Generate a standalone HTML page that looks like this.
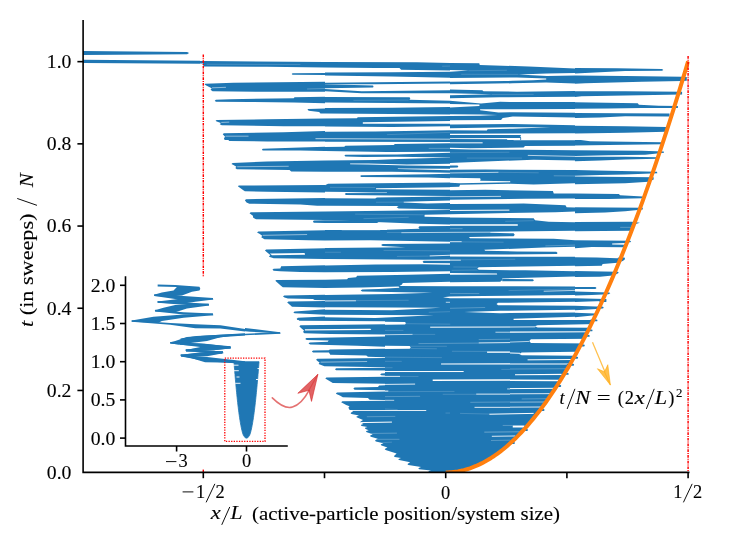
<!DOCTYPE html>
<html><head><meta charset="utf-8"><title>chart</title>
<style>
html,body{margin:0;padding:0;background:#fff;}
body{width:747px;height:538px;overflow:hidden;font-family:"Liberation Serif",serif;}
svg{display:block;will-change:transform;}
</style></head><body>
<svg width="747" height="538" viewBox="0 0 747 538">
<g id="data">
<clipPath id="c1"><rect x="200.0" y="50.0" width="125" height="90"/></clipPath>
<g clip-path="url(#c1)">
<polygon points="199.16,61.04 203.35,61.04 325.00,62.05 325.00,67.57 266.93,66.73 204.02,66.40 203.01,65.06 203.01,63.39 199.16,63.39" fill="#1f77b4"/>
<polyline points="206.69,64.22 300.40,64.56" fill="none" stroke="#8fbbd9" stroke-width="0.33" stroke-linecap="butt" stroke-linejoin="round"/>
<polygon points="291.70,73.93 292.54,73.26 325.00,72.93 325.00,75.10 292.54,74.77" fill="#1f77b4"/>
<polygon points="204.69,84.47 205.02,83.63 233.47,82.80 325.00,81.79 325.00,91.83 266.93,91.83 212.55,91.16 210.54,89.66 211.71,88.15 206.69,85.64" fill="#1f77b4"/>
<polyline points="212.05,87.82 225.94,87.32" fill="none" stroke="#fff" stroke-width="0.50" stroke-linecap="butt" stroke-linejoin="round"/>
<polyline points="307.10,88.99 325.00,88.49" fill="none" stroke="#8fbbd9" stroke-width="0.50" stroke-linecap="butt" stroke-linejoin="round"/>
<polygon points="214.73,100.70 215.90,99.70 230.12,99.20 293.71,98.19 294.54,97.36 325.00,96.69 325.00,103.21 293.71,102.54 250.20,102.04 215.90,101.71" fill="#1f77b4"/>
<polygon points="307.60,109.74 307.93,108.90 325.00,108.57 325.00,113.59 320.48,113.59 319.14,111.91 308.77,110.74" fill="#1f77b4"/>
<polygon points="215.56,120.78 216.73,119.95 266.93,119.28 325.00,118.44 325.00,126.14 283.67,126.14 221.75,125.30 219.75,124.13 220.92,122.96 216.73,121.62" fill="#1f77b4"/>
<polyline points="221.25,122.46 229.28,122.12" fill="none" stroke="#fff" stroke-width="0.50" stroke-linecap="butt" stroke-linejoin="round"/>
<polygon points="222.76,134.17 223.76,133.17 283.67,132.33 325.00,130.99 325.00,141.20 225.10,141.20 223.93,138.19 225.10,136.68 223.43,135.01" fill="#1f77b4"/>
<polyline points="225.44,136.18 248.53,136.18" fill="none" stroke="#fff" stroke-width="0.50" stroke-linecap="butt" stroke-linejoin="round"/>
<polyline points="315.46,138.69 325.00,138.69" fill="none" stroke="#fff" stroke-width="0.67" stroke-linecap="butt" stroke-linejoin="round"/>
</g>
<clipPath id="c2"><rect x="325.0" y="50.0" width="125" height="90"/></clipPath>
<g clip-path="url(#c2)">
<polygon points="325.00,62.05 417.03,62.22 450.00,63.05 450.00,70.41 401.14,69.75 399.46,68.07 375.20,67.90 325.00,67.57" fill="#1f77b4"/>
<polyline points="442.14,66.23 450.00,66.06" fill="none" stroke="#8fbbd9" stroke-width="0.33" stroke-linecap="butt" stroke-linejoin="round"/>
<polygon points="325.00,72.59 391.93,72.26 450.00,71.75 450.00,77.78 391.93,76.44 325.00,75.44" fill="#1f77b4"/>
<polygon points="325.00,82.63 375.20,82.30 450.00,81.46 450.00,83.47 375.20,84.14 325.00,84.30" fill="#1f77b4"/>
<polygon points="325.00,84.30 373.03,85.48 373.53,86.65 373.03,87.48 325.00,88.15" fill="#1f77b4"/>
<polygon points="325.00,88.99 361.81,91.16 450.00,90.16 450.00,93.17 361.81,93.17 325.00,91.16" fill="#1f77b4"/>
<polygon points="325.00,97.02 409.50,97.36 410.34,98.36 409.50,99.70 450.00,100.70 450.00,103.55 391.93,102.88 325.00,102.54" fill="#1f77b4"/>
<polyline points="353.45,100.37 408.67,100.03" fill="none" stroke="#8fbbd9" stroke-width="0.33" stroke-linecap="butt" stroke-linejoin="round"/>
<polygon points="325.00,108.07 391.93,107.73 450.00,106.89 450.00,114.42 391.93,114.09 325.00,113.59" fill="#1f77b4"/>
<polygon points="325.00,118.44 356.79,118.27 357.80,117.27 450.00,116.10 450.00,126.31 391.93,126.97 325.00,126.47" fill="#1f77b4"/>
<polygon points="362.82,122.29 450.00,121.12 450.00,123.63 362.82,123.63" fill="#fff"/>
<polygon points="325.00,131.83 375.20,131.49 450.00,130.32 450.00,141.20 325.00,141.20" fill="#1f77b4"/>
<polyline points="386.91,134.67 450.00,132.33" fill="none" stroke="#8fbbd9" stroke-width="0.33" stroke-linecap="butt" stroke-linejoin="round"/>
<polyline points="325.00,138.69 450.00,139.19" fill="none" stroke="#fff" stroke-width="0.67" stroke-linecap="butt" stroke-linejoin="round"/>
</g>
<clipPath id="c3"><rect x="450.0" y="50.0" width="125" height="90"/></clipPath>
<g clip-path="url(#c3)">
<polygon points="450.00,63.05 479.28,63.22 479.79,65.06 528.65,66.40 575.00,68.41 575.00,141.20 450.00,141.20" fill="#1f77b4"/>
<polygon points="450.00,70.08 468.74,70.58 450.00,71.75" fill="#fff"/>
<polyline points="468.41,70.75 506.89,70.25" fill="none" stroke="#8fbbd9" stroke-width="0.33" stroke-linecap="butt" stroke-linejoin="round"/>
<polyline points="461.21,74.26 518.44,74.43" fill="none" stroke="#8fbbd9" stroke-width="0.33" stroke-linecap="butt" stroke-linejoin="round"/>
<polygon points="518.44,74.43 547.05,73.43 575.00,73.09 575.00,75.44 547.05,76.10" fill="#fff"/>
<polygon points="450.00,77.95 516.93,77.44 546.22,78.61 546.22,79.62 533.00,80.29 512.75,80.79 505.22,81.12 450.00,81.79" fill="#fff"/>
<polygon points="450.00,84.30 512.75,83.30 546.22,82.46 575.00,83.47 575.00,91.00 516.93,91.67 483.47,91.33 482.30,90.16 450.00,89.49" fill="#fff"/>
<polygon points="450.00,93.34 492.67,94.34 450.00,95.18" fill="#fff"/>
<polyline points="491.83,94.51 533.67,94.34" fill="none" stroke="#8fbbd9" stroke-width="0.33" stroke-linecap="butt" stroke-linejoin="round"/>
<polygon points="450.00,98.19 500.20,97.36 575.00,96.85 575.00,102.04 500.20,101.87 480.96,103.55 450.00,100.70" fill="#fff"/>
<polygon points="450.00,104.05 479.45,104.55 479.45,105.89 450.00,107.40" fill="#fff"/>
<polygon points="480.12,109.24 512.75,109.24 575.00,108.90 575.00,112.75 512.75,112.25 498.53,112.58 480.12,110.24" fill="#fff"/>
<polygon points="450.00,114.26 480.12,114.42 497.52,115.09 480.12,115.76 450.00,116.10" fill="#fff"/>
<polygon points="450.00,120.28 501.04,120.11 502.71,118.11 512.75,116.43 575.00,117.44 575.00,125.30 512.75,123.96 450.00,124.46" fill="#fff"/>
<polygon points="450.00,128.15 512.75,127.14 550.40,127.31 512.75,128.65 487.65,129.32 486.81,130.49 450.00,130.32" fill="#fff"/>
<polygon points="450.00,133.67 575.00,133.33 575.00,141.20 521.12,141.20 521.12,137.68 520.28,136.35 521.12,135.01 450.00,135.01" fill="#fff"/>
<polygon points="450.00,138.19 520.28,138.02 520.28,141.20 508.57,141.20 506.89,139.36 450.00,139.02" fill="#fff"/>
</g>
<clipPath id="c4"><rect x="575.0" y="50.0" width="125" height="90"/></clipPath>
<g clip-path="url(#c4)">
<polygon points="575.00,68.07 616.83,68.24 662.01,68.91 663.35,69.91 662.01,70.75 625.20,71.08 600.10,72.26 575.00,73.59" fill="#1f77b4"/>
<polygon points="575.00,75.44 625.20,76.10 682.10,76.77 686.78,77.11 686.78,80.79 682.10,81.12 641.93,81.79 585.04,83.13 575.00,83.63" fill="#1f77b4"/>
<polygon points="575.00,91.16 625.20,91.33 682.10,91.83 682.10,94.51 625.20,95.52 581.69,96.35 575.00,97.02" fill="#1f77b4"/>
<polygon points="575.00,102.21 637.75,103.21 638.92,104.72 658.67,105.72 677.91,106.06 677.91,107.90 641.93,108.07 608.47,108.40 575.00,108.73" fill="#1f77b4"/>
<polygon points="575.00,112.92 669.54,113.59 669.54,116.43 625.20,116.27 600.10,117.44 575.00,118.11" fill="#1f77b4"/>
<polygon points="575.00,125.64 625.20,126.14 666.20,126.97 666.20,131.83 625.20,132.66 575.00,133.50" fill="#1f77b4"/>
</g>
<clipPath id="c5"><rect x="200.0" y="140.0" width="125" height="90"/></clipPath>
<g clip-path="url(#c5)">
<polygon points="227.61,139.16 229.28,141.00 266.93,141.51 325.00,141.51 325.00,139.16" fill="#1f77b4"/>
<polygon points="261.91,149.71 262.75,148.87 300.40,147.53 325.00,146.69 325.00,151.04 300.40,150.54 262.75,150.54" fill="#1f77b4"/>
<polygon points="231.46,163.93 232.63,162.93 266.93,161.42 325.00,160.41 325.00,171.79 291.20,171.46 289.52,170.12 236.81,169.28 235.31,168.11 236.48,166.77 233.47,165.10" fill="#1f77b4"/>
<polyline points="237.15,166.77 288.69,166.27" fill="none" stroke="#fff" stroke-width="0.50" stroke-linecap="butt" stroke-linejoin="round"/>
<polygon points="237.82,186.35 238.82,185.52 325.00,185.01 325.00,192.38 266.93,191.87 244.85,191.37 242.67,189.87" fill="#1f77b4"/>
<polygon points="244.85,200.24 246.02,199.24 325.00,198.07 325.00,205.76 317.14,205.76 300.40,204.59 249.36,203.76 246.52,202.58" fill="#1f77b4"/>
<polygon points="249.53,213.13 250.70,212.29 325.00,211.45 325.00,219.99 256.06,219.32 253.21,217.81 252.88,215.64" fill="#1f77b4"/>
<polygon points="312.95,221.49 313.79,220.49 325.00,220.15 325.00,223.00 313.79,222.66" fill="#1f77b4"/>
</g>
<clipPath id="c6"><rect x="325.0" y="140.0" width="125" height="90"/></clipPath>
<g clip-path="url(#c6)">
<polygon points="325.00,139.16 450.00,139.16 450.00,142.01 325.00,141.67" fill="#1f77b4"/>
<polygon points="325.00,147.03 344.24,146.69 345.41,145.86 393.61,145.02 394.95,144.02 450.00,143.35 450.00,151.71 386.91,152.05 325.00,151.04" fill="#1f77b4"/>
<polyline points="428.75,148.37 450.00,148.37" fill="none" stroke="#8fbbd9" stroke-width="0.50" stroke-linecap="butt" stroke-linejoin="round"/>
<polygon points="344.41,155.56 345.41,154.73 396.95,154.39 450.00,152.72 450.00,157.57 396.95,156.73 363.49,157.07 345.41,156.40" fill="#1f77b4"/>
<polygon points="325.00,160.58 375.20,160.08 398.63,159.08 450.00,157.40 450.00,172.80 391.93,171.79 325.00,171.79" fill="#1f77b4"/>
<polygon points="350.10,163.59 368.51,163.43 406.99,164.43 450.00,163.76 450.00,166.10 406.99,165.44 368.51,164.43 350.10,164.26" fill="#fff"/>
<polygon points="397.79,168.45 450.00,168.78 450.00,170.29 397.79,169.12" fill="#fff"/>
<polygon points="360.14,175.98 361.14,175.14 428.75,174.30 450.00,173.80 450.00,178.15 428.75,177.48 361.14,176.98" fill="#1f77b4"/>
<polygon points="325.00,185.18 328.01,183.84 450.00,182.50 450.00,196.06 391.93,195.56 345.92,194.89 344.75,193.88 345.92,193.05 375.20,192.21 325.00,191.87" fill="#1f77b4"/>
<polygon points="376.04,188.19 450.00,187.36 450.00,189.87 376.04,189.36" fill="#fff"/>
<polyline points="330.02,187.36 375.20,187.52" fill="none" stroke="#8fbbd9" stroke-width="0.33" stroke-linecap="butt" stroke-linejoin="round"/>
<polyline points="346.75,192.71 386.91,192.54" fill="none" stroke="#fff" stroke-width="0.50" stroke-linecap="butt" stroke-linejoin="round"/>
<polygon points="325.00,198.23 375.20,198.57 376.87,197.56 450.00,196.56 450.00,209.61 398.63,208.61 396.62,207.27 398.63,205.93 325.00,205.76" fill="#1f77b4"/>
<polygon points="403.65,201.75 450.00,200.41 450.00,202.92 427.07,203.42 403.65,202.58" fill="#fff"/>
<polyline points="376.04,202.25 403.65,202.08" fill="none" stroke="#8fbbd9" stroke-width="0.33" stroke-linecap="butt" stroke-linejoin="round"/>
<polygon points="325.00,211.62 450.00,209.95 450.00,224.50 418.71,223.67 375.20,221.99 325.00,219.99" fill="#1f77b4"/>
<polygon points="325.00,220.15 375.20,220.66 378.55,223.00 325.00,223.00" fill="#1f77b4"/>
<polygon points="424.56,214.80 450.00,214.30 450.00,217.31 424.56,216.64" fill="#fff"/>
<polyline points="355.12,214.13 423.73,214.80" fill="none" stroke="#8fbbd9" stroke-width="0.33" stroke-linecap="butt" stroke-linejoin="round"/>
<polyline points="363.49,218.65 408.67,217.31" fill="none" stroke="#8fbbd9" stroke-width="0.33" stroke-linecap="butt" stroke-linejoin="round"/>
<polygon points="418.37,227.35 419.54,226.35 450.00,226.01 450.00,231.20 386.91,231.20 386.91,229.69 419.54,228.69" fill="#1f77b4"/>
</g>
<clipPath id="c7"><rect x="450.0" y="140.0" width="125" height="90"/></clipPath>
<g clip-path="url(#c7)">
<polygon points="449.16,139.16 575.84,139.16 575.84,231.20 449.16,231.20" fill="#1f77b4"/>
<polyline points="450.00,142.84 482.63,142.84" fill="none" stroke="#fff" stroke-width="1.00" stroke-linecap="butt" stroke-linejoin="round"/>
<polyline points="513.59,140.50 575.00,140.50" fill="none" stroke="#8fbbd9" stroke-width="0.50" stroke-linecap="butt" stroke-linejoin="round"/>
<polygon points="450.00,147.86 470.08,148.37 523.63,147.53 524.97,146.02 575.00,145.69 575.00,150.37 523.63,149.71 470.08,149.54 450.00,149.04" fill="#fff"/>
<polyline points="527.81,155.39 575.00,156.40" fill="none" stroke="#fff" stroke-width="0.67" stroke-linecap="butt" stroke-linejoin="round"/>
<polyline points="450.00,152.72 509.40,152.22" fill="none" stroke="#8fbbd9" stroke-width="0.33" stroke-linecap="butt" stroke-linejoin="round"/>
<polyline points="466.73,158.07 521.95,158.07" fill="none" stroke="#8fbbd9" stroke-width="0.33" stroke-linecap="butt" stroke-linejoin="round"/>
<polygon points="450.00,162.93 491.83,161.25 533.67,159.75 575.00,160.41 575.00,170.12 485.14,169.62 450.00,169.79" fill="#fff"/>
<polygon points="450.00,165.44 457.53,165.60 458.37,166.61 457.53,167.61 450.00,167.78" fill="#1f77b4"/>
<polyline points="450.00,172.97 498.53,172.30" fill="none" stroke="#fff" stroke-width="0.67" stroke-linecap="butt" stroke-linejoin="round"/>
<polyline points="498.53,172.30 538.69,172.80" fill="none" stroke="#8fbbd9" stroke-width="0.33" stroke-linecap="butt" stroke-linejoin="round"/>
<polyline points="553.75,175.81 575.00,175.98" fill="none" stroke="#8fbbd9" stroke-width="0.50" stroke-linecap="butt" stroke-linejoin="round"/>
<polygon points="450.00,177.82 480.12,178.15 480.62,179.49 480.12,180.66 510.24,181.16 510.24,182.17 460.04,183.17 450.00,182.84" fill="#fff"/>
<polygon points="450.00,187.02 459.20,186.85 460.04,184.85 510.24,183.84 533.67,184.51 575.00,183.17 575.00,193.55 553.75,193.55 552.91,191.04 485.14,189.87 450.00,190.20" fill="#fff"/>
<polyline points="450.00,196.73 501.04,196.39" fill="none" stroke="#fff" stroke-width="0.67" stroke-linecap="butt" stroke-linejoin="round"/>
<polygon points="450.00,199.74 525.30,198.73 575.00,198.57 575.00,207.44 566.63,207.27 565.46,205.26 523.63,203.59 450.00,203.92" fill="#fff"/>
<polyline points="450.00,210.45 509.40,210.11" fill="none" stroke="#fff" stroke-width="1.00" stroke-linecap="butt" stroke-linejoin="round"/>
<polygon points="450.00,214.13 555.42,212.29 575.00,211.62 575.00,222.16 548.73,221.83 535.01,220.32 533.67,218.31 450.00,217.48" fill="#fff"/>
<polyline points="505.22,221.33 533.67,220.66" fill="none" stroke="#8fbbd9" stroke-width="0.33" stroke-linecap="butt" stroke-linejoin="round"/>
<polyline points="450.00,225.01 517.77,225.01" fill="none" stroke="#fff" stroke-width="1.51" stroke-linecap="butt" stroke-linejoin="round"/>
<polyline points="450.00,228.69 462.55,228.69" fill="none" stroke="#8fbbd9" stroke-width="0.50" stroke-linecap="butt" stroke-linejoin="round"/>
</g>
<clipPath id="c8"><rect x="575.0" y="140.0" width="125" height="90"/></clipPath>
<g clip-path="url(#c8)">
<polygon points="575.00,139.16 590.06,141.34 662.01,142.34 662.85,143.35 662.01,144.35 608.47,145.02 575.00,145.52" fill="#1f77b4"/>
<polygon points="575.00,150.21 641.93,150.71 663.69,151.38 664.02,152.72 645.28,154.73 608.47,155.23 575.00,156.06" fill="#1f77b4"/>
<polygon points="575.00,156.73 625.20,156.73 656.99,157.24 656.99,158.74 625.20,159.58 600.10,160.58 575.00,161.25" fill="#1f77b4"/>
<polygon points="575.00,170.12 596.75,170.62 656.99,171.79 657.33,173.13 625.20,174.47 600.10,174.97 575.00,175.64" fill="#1f77b4"/>
<polygon points="575.00,176.48 653.65,177.15 653.65,179.49 648.63,181.83 625.20,183.34 575.00,184.18" fill="#1f77b4"/>
<polygon points="575.00,193.55 618.84,193.88 620.18,195.22 642.77,196.39 642.77,198.23 608.47,198.90 575.00,199.07" fill="#1f77b4"/>
<polygon points="575.00,207.27 642.77,207.77 642.77,209.44 625.20,211.29 605.12,212.46 575.00,213.13" fill="#1f77b4"/>
<polygon points="575.00,221.99 631.89,221.83 639.93,222.83 631.89,225.34 630.22,231.20 575.00,231.20" fill="#1f77b4"/>
<polyline points="620.18,227.35 631.89,227.35" fill="none" stroke="#8fbbd9" stroke-width="0.50" stroke-linecap="butt" stroke-linejoin="round"/>
</g>
<clipPath id="c9"><rect x="83.1" y="40.0" width="116.9" height="90.0"/></clipPath>
<g clip-path="url(#c9)">
<polygon points="83.03,50.88 187.12,52.05 189.12,53.05 187.12,54.22 83.03,55.06" fill="#1f77b4"/>
<polygon points="83.03,59.75 200.00,60.75 200.00,63.76 83.03,62.93" fill="#1f77b4"/>
</g>
<clipPath id="c10"><rect x="200.0" y="230.0" width="125" height="90"/></clipPath>
<g clip-path="url(#c10)">
<polygon points="257.06,232.51 258.23,231.51 325.00,230.33 325.00,240.54 308.77,240.21 264.42,239.37 261.24,237.36 262.25,235.86 259.40,233.68" fill="#1f77b4"/>
<polyline points="262.75,235.35 307.10,234.52" fill="none" stroke="#fff" stroke-width="0.50" stroke-linecap="butt" stroke-linejoin="round"/>
<polygon points="264.93,250.58 266.10,249.58 325.00,248.24 325.00,258.95 273.63,258.28 268.94,256.77 270.28,255.10 266.93,252.26" fill="#1f77b4"/>
<polygon points="269.95,253.43 304.59,252.93 305.09,254.77 271.95,255.27" fill="#fff"/>
<polygon points="272.46,269.83 273.63,268.82 280.32,268.49 281.16,266.14 325.00,265.31 325.00,272.34 300.40,272.00 280.32,271.16 273.63,270.83" fill="#1f77b4"/>
<polygon points="275.30,280.87 276.31,280.03 325.00,279.70 325.00,287.90 282.83,287.23 281.16,286.06" fill="#1f77b4"/>
<polygon points="283.00,296.43 284.17,295.43 325.00,294.76 325.00,300.28 314.63,300.11 312.95,298.94 287.85,298.44 284.50,297.60" fill="#1f77b4"/>
<polygon points="287.18,302.46 288.35,301.45 325.00,300.95 325.00,307.48 292.03,306.64 290.36,305.30" fill="#1f77b4"/>
<polygon points="293.37,312.50 294.54,311.49 308.77,310.49 325.00,309.32 325.00,314.67 294.54,313.33" fill="#1f77b4"/>
<polygon points="296.72,318.69 297.89,317.68 325.00,316.51 325.00,321.20 297.89,321.20" fill="#1f77b4"/>
</g>
<clipPath id="c11"><rect x="325.0" y="230.0" width="125" height="90"/></clipPath>
<g clip-path="url(#c11)">
<polygon points="324.16,229.16 450.84,229.16 450.84,321.20 324.16,321.20" fill="#1f77b4"/>
<polyline points="341.73,230.50 380.22,230.50" fill="none" stroke="#8fbbd9" stroke-width="0.33" stroke-linecap="butt" stroke-linejoin="round"/>
<polyline points="386.91,232.51 401.31,232.51" fill="none" stroke="#8fbbd9" stroke-width="0.33" stroke-linecap="butt" stroke-linejoin="round"/>
<polyline points="401.31,232.68 450.00,232.34" fill="none" stroke="#fff" stroke-width="0.67" stroke-linecap="butt" stroke-linejoin="round"/>
<polygon points="325.00,240.54 370.18,240.37 450.00,241.71 450.00,243.39 415.36,243.72 382.73,244.06 381.06,245.06 382.73,246.06 405.32,247.24 381.89,247.40 325.00,248.07" fill="#fff"/>
<polyline points="325.00,252.26 340.90,252.26" fill="none" stroke="#8fbbd9" stroke-width="0.33" stroke-linecap="butt" stroke-linejoin="round"/>
<polyline points="383.57,250.41 450.00,250.92" fill="none" stroke="#8fbbd9" stroke-width="0.33" stroke-linecap="butt" stroke-linejoin="round"/>
<polyline points="396.95,256.44 428.75,256.10" fill="none" stroke="#8fbbd9" stroke-width="0.33" stroke-linecap="butt" stroke-linejoin="round"/>
<polyline points="429.59,255.94 450.00,255.27" fill="none" stroke="#fff" stroke-width="0.84" stroke-linecap="butt" stroke-linejoin="round"/>
<polygon points="325.00,259.12 423.73,259.79 450.00,259.45 450.00,260.79 423.73,260.79 422.56,261.79 423.73,262.97 450.00,263.30 450.00,264.81 422.05,264.14 375.20,264.47 325.00,265.48" fill="#fff"/>
<polygon points="325.00,272.17 391.93,272.00 450.00,271.16 450.00,273.67 408.67,274.68 357.13,275.85 356.12,277.36 348.09,278.03 347.09,279.36 325.00,279.70" fill="#fff"/>
<polygon points="402.81,282.88 450.00,281.87 450.00,286.22 399.46,285.89 401.97,284.55" fill="#fff"/>
<polygon points="325.00,287.90 361.81,287.40 398.63,286.56 399.46,287.73 378.55,288.90 362.15,289.57 360.64,290.58 362.15,291.58 432.10,292.75 391.93,294.09 325.00,294.93" fill="#fff"/>
<polyline points="325.00,300.95 355.96,300.78" fill="none" stroke="#fff" stroke-width="0.84" stroke-linecap="butt" stroke-linejoin="round"/>
<polyline points="355.96,300.62 408.67,300.28" fill="none" stroke="#8fbbd9" stroke-width="0.33" stroke-linecap="butt" stroke-linejoin="round"/>
<polygon points="442.97,297.27 450.00,296.60 450.00,298.27" fill="#fff"/>
<polyline points="445.82,302.29 450.00,302.29" fill="none" stroke="#fff" stroke-width="0.67" stroke-linecap="butt" stroke-linejoin="round"/>
<polygon points="325.00,307.31 391.93,307.48 440.46,307.64 391.93,310.15 325.00,309.82" fill="#fff"/>
<polygon points="325.00,314.84 375.20,315.01 433.77,315.17 375.20,318.02 325.00,317.35" fill="#fff"/>
<polyline points="428.75,312.33 450.00,311.66" fill="none" stroke="#8fbbd9" stroke-width="0.33" stroke-linecap="butt" stroke-linejoin="round"/>
</g>
<clipPath id="c12"><rect x="450.0" y="230.0" width="125" height="90"/></clipPath>
<g clip-path="url(#c12)">
<polygon points="449.16,229.16 575.84,229.16 575.84,321.20 449.16,321.20" fill="#1f77b4"/>
<polyline points="450.00,232.34 490.16,232.18" fill="none" stroke="#fff" stroke-width="0.67" stroke-linecap="butt" stroke-linejoin="round"/>
<polygon points="490.16,231.67 575.00,230.84 575.00,240.37 553.75,238.87 470.08,238.37 468.91,237.03 513.59,236.19 514.76,234.69 513.59,233.35 490.16,232.84" fill="#fff"/>
<polyline points="450.00,241.71 461.71,241.71" fill="none" stroke="#fff" stroke-width="0.84" stroke-linecap="butt" stroke-linejoin="round"/>
<polyline points="461.71,241.88 503.55,242.22" fill="none" stroke="#8fbbd9" stroke-width="0.33" stroke-linecap="butt" stroke-linejoin="round"/>
<polyline points="545.38,245.90 575.00,245.06" fill="none" stroke="#8fbbd9" stroke-width="0.50" stroke-linecap="butt" stroke-linejoin="round"/>
<polygon points="484.30,249.75 543.71,247.57 575.00,246.73 575.00,256.77 516.93,256.77 450.00,256.44 450.00,254.43 491.83,254.60 557.10,253.93 557.43,252.76 556.26,251.75 516.93,251.42 485.14,250.75" fill="#fff"/>
<polyline points="450.00,260.12 460.88,260.12" fill="none" stroke="#fff" stroke-width="0.84" stroke-linecap="butt" stroke-linejoin="round"/>
<polyline points="460.88,259.79 515.26,259.28" fill="none" stroke="#8fbbd9" stroke-width="0.33" stroke-linecap="butt" stroke-linejoin="round"/>
<polygon points="477.28,268.49 478.78,267.15 575.00,265.81 575.00,271.16 525.30,270.33 478.78,269.83" fill="#fff"/>
<polyline points="453.35,266.98 477.61,267.15" fill="none" stroke="#8fbbd9" stroke-width="0.33" stroke-linecap="butt" stroke-linejoin="round"/>
<polyline points="451.67,270.33 477.61,269.99" fill="none" stroke="#8fbbd9" stroke-width="0.33" stroke-linecap="butt" stroke-linejoin="round"/>
<polygon points="450.00,273.01 496.85,273.51 497.19,274.51 450.00,274.85" fill="#fff"/>
<polygon points="450.00,282.21 500.20,281.87 502.21,280.20 502.21,278.53 575.00,276.52 575.00,286.56 516.93,286.22 450.00,286.22" fill="#fff"/>
<polygon points="502.21,279.03 532.83,279.20 534.00,280.20 532.83,281.20 502.21,281.20" fill="#1f77b4"/>
<polyline points="543.71,291.24 575.00,290.41" fill="none" stroke="#fff" stroke-width="0.67" stroke-linecap="butt" stroke-linejoin="round"/>
<polyline points="508.57,290.58 575.00,288.90" fill="none" stroke="#8fbbd9" stroke-width="0.33" stroke-linecap="butt" stroke-linejoin="round"/>
<polyline points="450.00,293.42 479.28,293.59" fill="none" stroke="#8fbbd9" stroke-width="0.50" stroke-linecap="butt" stroke-linejoin="round"/>
<polygon points="450.00,296.43 483.47,296.10 575.00,294.93 575.00,298.27 483.47,298.27 450.00,298.27" fill="#fff"/>
<polygon points="496.52,303.96 498.03,302.79 575.00,301.79 575.00,305.80 498.03,305.13" fill="#fff"/>
<polyline points="450.00,308.31 485.14,307.48" fill="none" stroke="#8fbbd9" stroke-width="0.50" stroke-linecap="butt" stroke-linejoin="round"/>
<polygon points="464.22,311.99 500.20,310.82 575.00,309.65 575.00,312.50 500.20,313.17" fill="#fff"/>
<polygon points="513.59,318.69 575.00,316.68 575.00,321.20 513.59,321.20" fill="#fff"/>
</g>
<clipPath id="c13"><rect x="575.0" y="230.0" width="125" height="90"/></clipPath>
<g clip-path="url(#c13)">
<polygon points="575.00,229.16 631.89,229.16 631.06,230.84 575.00,231.34" fill="#1f77b4"/>
<polygon points="575.00,240.37 630.22,240.71 631.22,241.88 625.20,243.05 625.20,247.24 591.73,246.90 575.00,248.24" fill="#1f77b4"/>
<polygon points="612.15,243.39 625.20,242.88 625.20,244.73 612.15,244.39" fill="#fff"/>
<polygon points="575.00,257.28 596.75,257.44 623.53,258.45 624.87,259.45 622.69,261.12 617.67,262.80 602.61,263.97 601.77,265.64 575.00,266.14" fill="#1f77b4"/>
<polygon points="575.00,271.00 617.67,271.67 618.84,272.67 616.83,274.01 612.65,275.52 600.10,276.69 575.00,277.02" fill="#1f77b4"/>
<polygon points="575.00,286.89 595.41,287.06 596.59,287.90 595.41,288.90 575.00,288.90" fill="#1f77b4"/>
<polygon points="575.00,291.58 609.30,292.42 610.31,293.25 608.47,294.26 591.73,294.93 575.00,295.43" fill="#1f77b4"/>
<polygon points="575.00,298.27 605.96,299.11 606.79,299.95 603.45,300.95 588.39,301.62 575.00,302.12" fill="#1f77b4"/>
<polygon points="575.00,305.64 602.61,306.64 603.45,307.48 600.10,308.65 588.39,309.48 575.00,310.15" fill="#1f77b4"/>
<polygon points="575.00,312.83 595.08,313.50 594.75,315.34 585.04,316.18 575.00,317.35" fill="#1f77b4"/>
</g>
<clipPath id="c14"><rect x="260.0" y="320.0" width="125" height="90"/></clipPath>
<g clip-path="url(#c14)">
<polygon points="297.65,319.16 299.32,320.67 385.00,321.34 385.00,319.16" fill="#1f77b4"/>
<polygon points="299.32,326.19 300.50,325.19 385.00,324.35 385.00,334.39 330.28,333.89 304.34,333.22 303.01,331.88 304.01,330.54 301.00,328.03" fill="#1f77b4"/>
<polygon points="304.85,329.37 370.44,328.70 371.28,330.04 304.85,330.54" fill="#fff"/>
<polygon points="305.18,338.91 306.35,337.90 385.00,336.57 385.00,346.77 357.05,345.77 310.20,344.60 308.53,343.43 309.70,342.42 327.77,341.75 328.61,340.41 306.85,339.91" fill="#1f77b4"/>
<polygon points="311.87,351.46 313.05,350.46 328.61,350.29 329.95,349.45 385.00,348.78 385.00,357.15 367.93,356.81 366.26,355.48 330.28,354.81 328.94,352.46 313.05,352.46" fill="#1f77b4"/>
<polygon points="316.06,359.66 317.23,358.65 385.00,357.99 385.00,367.36 324.42,366.35 318.57,364.01 319.57,362.50 317.73,361.16" fill="#1f77b4"/>
<polyline points="320.58,362.17 367.10,361.50" fill="none" stroke="#fff" stroke-width="0.50" stroke-linecap="butt" stroke-linejoin="round"/>
<polygon points="334.97,369.36 336.14,368.36 385.00,367.86 385.00,370.54 336.14,370.20" fill="#1f77b4"/>
<polygon points="380.15,374.38 381.32,373.38 385.00,373.21 385.00,375.39 381.32,375.22" fill="#1f77b4"/>
<polygon points="325.26,378.57 326.43,377.56 385.00,376.73 385.00,383.76 332.79,383.09 330.28,381.58" fill="#1f77b4"/>
<polygon points="353.37,388.61 354.54,387.60 377.97,387.10 379.14,385.60 385.00,385.26 385.00,390.28 354.54,389.78" fill="#1f77b4"/>
<polygon points="335.80,393.63 336.97,392.62 385.00,391.45 385.00,399.99 369.61,399.65 367.93,397.98 342.83,397.31 340.32,395.80" fill="#1f77b4"/>
<polygon points="341.16,402.33 342.33,401.33 385.00,400.66 385.00,411.20 350.36,411.20 348.35,407.85 349.52,406.35 346.18,405.01" fill="#1f77b4"/>
</g>
<clipPath id="c15"><rect x="385.0" y="320.0" width="125" height="90"/></clipPath>
<g clip-path="url(#c15)">
<polygon points="384.16,319.16 510.84,319.16 510.84,411.20 384.16,411.20" fill="#1f77b4"/>
<polygon points="385.00,321.67 405.08,322.01 405.92,323.35 405.08,324.52 385.00,324.69" fill="#fff"/>
<polyline points="405.92,323.68 450.26,324.18" fill="none" stroke="#8fbbd9" stroke-width="0.33" stroke-linecap="butt" stroke-linejoin="round"/>
<polyline points="430.18,327.20 510.00,327.03" fill="none" stroke="#fff" stroke-width="1.00" stroke-linecap="butt" stroke-linejoin="round"/>
<polyline points="385.00,330.37 403.41,330.37" fill="none" stroke="#8fbbd9" stroke-width="0.33" stroke-linecap="butt" stroke-linejoin="round"/>
<polyline points="495.44,332.22 510.00,332.22" fill="none" stroke="#fff" stroke-width="0.67" stroke-linecap="butt" stroke-linejoin="round"/>
<polyline points="385.00,334.73 412.61,334.39" fill="none" stroke="#fff" stroke-width="0.67" stroke-linecap="butt" stroke-linejoin="round"/>
<polyline points="412.61,334.39 435.20,334.39" fill="none" stroke="#8fbbd9" stroke-width="0.33" stroke-linecap="butt" stroke-linejoin="round"/>
<polyline points="478.71,339.58 510.00,339.24" fill="none" stroke="#8fbbd9" stroke-width="0.50" stroke-linecap="butt" stroke-linejoin="round"/>
<polyline points="418.47,343.59 478.71,343.09" fill="none" stroke="#8fbbd9" stroke-width="0.50" stroke-linecap="butt" stroke-linejoin="round"/>
<polyline points="478.71,342.93 510.00,342.59" fill="none" stroke="#fff" stroke-width="0.84" stroke-linecap="butt" stroke-linejoin="round"/>
<polygon points="385.00,345.77 409.77,345.94 410.44,347.28 409.77,348.78 385.00,348.95" fill="#fff"/>
<polyline points="410.10,346.27 446.91,346.27" fill="none" stroke="#8fbbd9" stroke-width="0.33" stroke-linecap="butt" stroke-linejoin="round"/>
<polyline points="410.10,348.45 436.87,348.78" fill="none" stroke="#8fbbd9" stroke-width="0.33" stroke-linecap="butt" stroke-linejoin="round"/>
<polyline points="451.93,351.29 487.07,351.46" fill="none" stroke="#8fbbd9" stroke-width="0.33" stroke-linecap="butt" stroke-linejoin="round"/>
<polyline points="487.07,352.13 510.00,352.13" fill="none" stroke="#fff" stroke-width="1.34" stroke-linecap="butt" stroke-linejoin="round"/>
<polyline points="385.00,357.15 441.89,357.65" fill="none" stroke="#8fbbd9" stroke-width="0.33" stroke-linecap="butt" stroke-linejoin="round"/>
<polyline points="385.00,361.33 401.73,361.33" fill="none" stroke="#8fbbd9" stroke-width="0.33" stroke-linecap="butt" stroke-linejoin="round"/>
<polyline points="441.06,364.01 510.00,363.84" fill="none" stroke="#fff" stroke-width="1.17" stroke-linecap="butt" stroke-linejoin="round"/>
<polyline points="385.00,367.69 392.53,367.69" fill="none" stroke="#8fbbd9" stroke-width="0.33" stroke-linecap="butt" stroke-linejoin="round"/>
<polyline points="501.30,369.36 510.00,369.36" fill="none" stroke="#8fbbd9" stroke-width="0.33" stroke-linecap="butt" stroke-linejoin="round"/>
<polyline points="385.00,371.54 463.65,371.54" fill="none" stroke="#fff" stroke-width="1.00" stroke-linecap="butt" stroke-linejoin="round"/>
<polyline points="385.00,376.39 400.06,376.39" fill="none" stroke="#fff" stroke-width="0.84" stroke-linecap="butt" stroke-linejoin="round"/>
<polyline points="400.06,376.39 418.47,376.56" fill="none" stroke="#8fbbd9" stroke-width="0.33" stroke-linecap="butt" stroke-linejoin="round"/>
<polyline points="432.69,380.24 510.00,379.91" fill="none" stroke="#fff" stroke-width="1.51" stroke-linecap="butt" stroke-linejoin="round"/>
<polyline points="385.00,384.42 415.12,384.09" fill="none" stroke="#fff" stroke-width="0.84" stroke-linecap="butt" stroke-linejoin="round"/>
<polyline points="385.00,391.12 388.35,391.12" fill="none" stroke="#fff" stroke-width="1.00" stroke-linecap="butt" stroke-linejoin="round"/>
<polyline points="388.35,391.62 454.44,391.45" fill="none" stroke="#8fbbd9" stroke-width="0.33" stroke-linecap="butt" stroke-linejoin="round"/>
<polyline points="476.20,394.13 510.00,394.13" fill="none" stroke="#fff" stroke-width="0.84" stroke-linecap="butt" stroke-linejoin="round"/>
<polyline points="442.73,394.30 476.20,394.30" fill="none" stroke="#8fbbd9" stroke-width="0.33" stroke-linecap="butt" stroke-linejoin="round"/>
<polyline points="385.00,396.64 420.14,396.31" fill="none" stroke="#8fbbd9" stroke-width="0.50" stroke-linecap="butt" stroke-linejoin="round"/>
<polyline points="385.00,400.32 394.20,400.32" fill="none" stroke="#fff" stroke-width="0.67" stroke-linecap="butt" stroke-linejoin="round"/>
<polyline points="470.34,402.33 510.00,401.99" fill="none" stroke="#8fbbd9" stroke-width="0.50" stroke-linecap="butt" stroke-linejoin="round"/>
<polyline points="507.16,388.94 510.00,388.94" fill="none" stroke="#fff" stroke-width="0.67" stroke-linecap="butt" stroke-linejoin="round"/>
<polyline points="474.52,407.35 510.00,407.35" fill="none" stroke="#fff" stroke-width="0.84" stroke-linecap="butt" stroke-linejoin="round"/>
<polyline points="385.00,409.02 397.55,409.52" fill="none" stroke="#8fbbd9" stroke-width="0.33" stroke-linecap="butt" stroke-linejoin="round"/>
</g>
<clipPath id="c16"><rect x="510.0" y="320.0" width="125" height="90"/></clipPath>
<g clip-path="url(#c16)">
<polygon points="508.00,412.00 539.82,412.00 541.61,409.65 543.37,407.30 545.10,404.95 546.79,402.60 548.46,400.25 550.10,397.90 551.72,395.55 553.31,393.20 554.88,390.85 556.42,388.50 557.94,386.15 559.45,383.80 560.93,381.45 562.39,379.10 563.84,376.75 565.27,374.40 566.68,372.05 568.07,369.70 569.45,367.35 570.81,365.00 572.16,362.65 573.49,360.30 574.81,357.95 576.12,355.60 577.41,353.25 578.70,350.90 579.96,348.55 581.22,346.20 582.47,343.85 583.70,341.50 584.92,339.15 586.13,336.80 587.33,334.45 588.53,332.10 589.71,329.75 590.88,327.40 592.04,325.05 593.19,322.70 594.34,320.35 595.47,318.00 508.00,318.00" fill="#1f77b4"/>
<polyline points="510.00,327.03 535.10,326.86" fill="none" stroke="#fff" stroke-width="0.84" stroke-linecap="butt" stroke-linejoin="round"/>
<polygon points="534.77,326.36 537.61,325.19 597.01,324.02 597.01,327.70 537.61,327.53" fill="#fff"/>
<polyline points="510.00,332.05 593.67,331.71" fill="none" stroke="#fff" stroke-width="1.17" stroke-linecap="butt" stroke-linejoin="round"/>
<polyline points="510.00,342.09 529.24,341.42" fill="none" stroke="#fff" stroke-width="0.67" stroke-linecap="butt" stroke-linejoin="round"/>
<polygon points="529.24,341.08 530.92,339.24 593.67,338.74 593.67,343.43 530.92,342.93" fill="#fff"/>
<polyline points="510.00,352.97 520.04,353.30" fill="none" stroke="#fff" stroke-width="1.00" stroke-linecap="butt" stroke-linejoin="round"/>
<polygon points="519.20,353.97 521.71,352.46 576.93,351.63 576.93,355.64 521.71,355.14" fill="#fff"/>
<polyline points="527.57,359.83 576.93,359.49" fill="none" stroke="#fff" stroke-width="1.00" stroke-linecap="butt" stroke-linejoin="round"/>
<polyline points="510.00,364.01 573.59,364.01" fill="none" stroke="#fff" stroke-width="1.17" stroke-linecap="butt" stroke-linejoin="round"/>
<polyline points="510.00,369.03 570.24,368.69" fill="none" stroke="#8fbbd9" stroke-width="0.50" stroke-linecap="butt" stroke-linejoin="round"/>
<polyline points="515.02,374.72 568.57,374.38" fill="none" stroke="#fff" stroke-width="1.17" stroke-linecap="butt" stroke-linejoin="round"/>
<polyline points="510.00,380.24 560.20,380.41" fill="none" stroke="#fff" stroke-width="1.51" stroke-linecap="butt" stroke-linejoin="round"/>
<polyline points="510.00,388.61 556.85,388.27" fill="none" stroke="#fff" stroke-width="1.00" stroke-linecap="butt" stroke-linejoin="round"/>
<polyline points="510.00,393.80 551.83,393.63" fill="none" stroke="#fff" stroke-width="0.84" stroke-linecap="butt" stroke-linejoin="round"/>
<polyline points="521.71,398.98 550.16,398.65" fill="none" stroke="#8fbbd9" stroke-width="0.50" stroke-linecap="butt" stroke-linejoin="round"/>
<polyline points="510.00,402.16 545.14,401.99" fill="none" stroke="#fff" stroke-width="0.50" stroke-linecap="butt" stroke-linejoin="round"/>
<polyline points="510.00,407.18 543.47,407.01" fill="none" stroke="#fff" stroke-width="0.84" stroke-linecap="butt" stroke-linejoin="round"/>
</g>
<clipPath id="c17"><rect x="325.0" y="410.0" width="125.0" height="62.5"/></clipPath>
<g clip-path="url(#c17)">
<polygon points="340.90,399.16 340.90,400.84 340.56,401.34 341.40,402.01 350.44,405.02 348.09,406.86 347.76,407.36 348.59,408.03 353.28,410.88 350.94,412.72 350.60,413.22 351.44,413.89 358.97,415.39 356.63,416.40 356.29,416.90 357.13,417.57 362.99,420.08 360.64,421.59 360.31,422.09 361.14,422.76 363.49,423.93 361.14,424.77 360.81,425.27 361.65,425.94 367.50,427.11 365.16,427.78 364.83,428.28 365.66,428.95 368.67,430.29 366.33,431.12 366.00,431.63 366.83,432.30 372.69,434.30 370.35,435.48 370.01,435.98 370.85,436.65 377.71,438.82 375.37,440.33 375.03,440.83 375.87,441.50 383.40,443.17 381.06,444.34 380.72,444.85 381.56,445.52 387.42,447.52 385.07,448.86 384.74,449.36 385.58,450.03 396.62,453.55 394.28,455.72 393.94,456.22 394.78,456.89 400.97,458.07 398.63,458.90 398.29,459.40 399.13,460.07 410.17,462.25 407.83,463.76 407.50,464.26 408.33,464.93 421.05,466.93 418.71,468.11 418.37,468.61 419.21,469.28 431.09,470.45 428.75,471.12 428.41,471.62 429.25,472.29 450.00,471.95 450.00,399.16" fill="#1f77b4"/>
<polyline points="350.10,410.37 426.24,410.37" fill="none" stroke="#fff" stroke-width="1.00" stroke-linecap="butt" stroke-linejoin="round"/>
<polyline points="366.83,416.73 395.28,416.40" fill="none" stroke="#8fbbd9" stroke-width="0.50" stroke-linecap="butt" stroke-linejoin="round"/>
<polyline points="360.98,422.59 391.93,422.09" fill="none" stroke="#fff" stroke-width="1.00" stroke-linecap="butt" stroke-linejoin="round"/>
<polyline points="370.18,433.47 396.95,433.13" fill="none" stroke="#8fbbd9" stroke-width="0.50" stroke-linecap="butt" stroke-linejoin="round"/>
<polyline points="376.87,439.32 399.46,439.32" fill="none" stroke="#8fbbd9" stroke-width="0.50" stroke-linecap="butt" stroke-linejoin="round"/>
<polyline points="381.89,442.67 391.93,442.17" fill="none" stroke="#8fbbd9" stroke-width="0.33" stroke-linecap="butt" stroke-linejoin="round"/>
<polyline points="445.48,413.05 450.00,413.05" fill="none" stroke="#8fbbd9" stroke-width="0.33" stroke-linecap="butt" stroke-linejoin="round"/>
</g>
<clipPath id="c18"><rect x="450.0" y="410.0" width="125.0" height="62.5"/></clipPath>
<g clip-path="url(#c18)">
<polygon points="448.00,474.50 446.90,474.50 446.90,472.84 460.13,471.18 467.22,469.51 472.40,467.85 476.70,466.19 480.45,464.52 483.83,462.86 486.91,461.20 489.78,459.54 492.47,457.88 495.01,456.21 497.42,454.55 499.72,452.89 501.92,451.23 504.04,449.56 506.08,447.90 508.06,446.24 509.97,444.57 511.83,442.91 513.63,441.25 515.39,439.59 517.10,437.93 518.78,436.26 520.41,434.60 522.01,432.94 523.58,431.27 525.11,429.61 526.62,427.95 528.09,426.29 529.54,424.62 530.97,422.96 532.37,421.30 533.75,419.64 535.11,417.98 536.45,416.31 537.76,414.65 539.06,412.99 540.34,411.32 541.61,409.66 542.85,408.00 448.00,408.00" fill="#1f77b4"/>
<polyline points="506.89,402.51 543.71,402.01" fill="none" stroke="#fff" stroke-width="1.00" stroke-linecap="butt" stroke-linejoin="round"/>
<polyline points="470.08,402.51 506.89,402.51" fill="none" stroke="#8fbbd9" stroke-width="0.33" stroke-linecap="butt" stroke-linejoin="round"/>
<polyline points="485.98,407.53 540.36,406.69" fill="none" stroke="#fff" stroke-width="1.34" stroke-linecap="butt" stroke-linejoin="round"/>
<polyline points="474.26,407.53 485.98,407.53" fill="none" stroke="#8fbbd9" stroke-width="0.33" stroke-linecap="butt" stroke-linejoin="round"/>
<polyline points="489.32,414.22 533.67,413.39" fill="none" stroke="#fff" stroke-width="1.00" stroke-linecap="butt" stroke-linejoin="round"/>
<polyline points="460.04,413.39 489.32,414.06" fill="none" stroke="#8fbbd9" stroke-width="0.33" stroke-linecap="butt" stroke-linejoin="round"/>
<polyline points="512.75,426.44 524.46,426.44" fill="none" stroke="#fff" stroke-width="2.01" stroke-linecap="butt" stroke-linejoin="round"/>
<polyline points="502.71,425.44 512.75,425.44" fill="none" stroke="#8fbbd9" stroke-width="0.50" stroke-linecap="butt" stroke-linejoin="round"/>
<polyline points="484.30,432.13 520.28,431.79" fill="none" stroke="#8fbbd9" stroke-width="0.67" stroke-linecap="butt" stroke-linejoin="round"/>
<polyline points="491.83,436.31 515.26,435.98" fill="none" stroke="#fff" stroke-width="0.84" stroke-linecap="butt" stroke-linejoin="round"/>
<polyline points="491.00,440.50 510.24,440.16" fill="none" stroke="#8fbbd9" stroke-width="0.50" stroke-linecap="butt" stroke-linejoin="round"/>
</g>
</g>
<g id="tips">
<path d="M618.61,258.40 H624.01" stroke="#1f77b4" stroke-width="1.9" stroke-linecap="round"/>
<path d="M600.24,301.00 H605.64" stroke="#1f77b4" stroke-width="1.9" stroke-linecap="round"/>
<path d="M597.19,307.60 H602.59" stroke="#1f77b4" stroke-width="1.9" stroke-linecap="round"/>
<path d="M591.11,320.40 H596.51" stroke="#1f77b4" stroke-width="1.9" stroke-linecap="round"/>
<path d="M586.18,330.40 H591.58" stroke="#1f77b4" stroke-width="1.9" stroke-linecap="round"/>
<path d="M583.39,335.90 H588.79" stroke="#1f77b4" stroke-width="1.9" stroke-linecap="round"/>
<path d="M578.39,345.50 H583.79" stroke="#1f77b4" stroke-width="1.9" stroke-linecap="round"/>
<path d="M571.75,357.70 H577.15" stroke="#1f77b4" stroke-width="1.9" stroke-linecap="round"/>
<path d="M567.73,364.80 H573.13" stroke="#1f77b4" stroke-width="1.9" stroke-linecap="round"/>
<path d="M562.37,373.90 H567.77" stroke="#1f77b4" stroke-width="1.9" stroke-linecap="round"/>
<path d="M554.84,386.00 H560.24" stroke="#1f77b4" stroke-width="1.9" stroke-linecap="round"/>
<path d="M538.15,410.00 H543.55" stroke="#1f77b4" stroke-width="1.9" stroke-linecap="round"/>
<path d="M521.56,430.00 H526.96" stroke="#1f77b4" stroke-width="1.9" stroke-linecap="round"/>
<path d="M508.53,443.00 H513.93" stroke="#1f77b4" stroke-width="1.9" stroke-linecap="round"/>
</g>
<clipPath id="axclip"><rect x="83.1" y="19" width="606.5" height="453.4"/></clipPath>
<path clip-path="url(#axclip)" d="M445.70,472.40 L448.73,472.34 L451.76,472.14 L454.79,471.82 L457.82,471.37 L460.85,470.79 L463.88,470.09 L466.91,469.25 L469.94,468.29 L472.97,467.20 L476.00,465.98 L479.03,464.63 L482.06,463.15 L485.09,461.55 L488.12,459.81 L491.15,457.95 L494.18,455.96 L497.21,453.84 L500.24,451.59 L503.27,449.22 L506.30,446.71 L509.33,444.08 L512.36,441.32 L515.39,438.43 L518.42,435.41 L521.45,432.26 L524.48,428.99 L527.51,425.58 L530.54,422.05 L533.57,418.39 L536.60,414.60 L539.63,410.69 L542.66,406.64 L545.69,402.47 L548.72,398.16 L551.75,393.73 L554.78,389.17 L557.81,384.48 L560.84,379.67 L563.87,374.72 L566.90,369.65 L569.93,364.45 L572.96,359.12 L575.99,353.66 L579.02,348.07 L582.05,342.36 L585.08,336.51 L588.11,330.54 L591.14,324.44 L594.17,318.21 L597.20,311.85 L600.23,305.37 L603.26,298.75 L606.29,292.01 L609.32,285.14 L612.35,278.14 L615.38,271.01 L618.41,263.75 L621.44,256.37 L624.47,248.85 L627.50,241.21 L630.53,233.44 L633.56,225.54 L636.59,217.52 L639.62,209.36 L642.65,201.08 L645.68,192.66 L648.71,184.12 L651.74,175.45 L654.77,166.65 L657.80,157.73 L660.83,148.67 L663.86,139.49 L666.89,130.18 L669.92,120.74 L672.95,111.17 L675.98,101.47 L679.01,91.65 L682.04,81.69 L685.07,71.61 L688.10,61.40" fill="none" stroke="#ff7f0e" stroke-width="4.0" stroke-linecap="butt" stroke-linejoin="round"/>
<path d="M203.3,54.5 V277" stroke="#ff0000" stroke-width="1.45" stroke-dasharray="2.7 1.0 1.0 1.0" fill="none"/>
<path d="M203.3,469.6 V472" stroke="#ff0000" stroke-width="1.45" stroke-dasharray="2.7 1.0 1.0 1.0" fill="none"/>
<path d="M688.1,56.0 V472" stroke="#ff0000" stroke-width="1.45" stroke-dasharray="2.7 1.0 1.0 1.0" fill="none"/>
<path d="M83.1,20.7 V472.4 H688.7" stroke="#000" stroke-width="1.6" fill="none" stroke-linecap="square"/>
<path d="M77.4,390.45 H83.1" stroke="#000" stroke-width="1.6"/>
<path d="M77.4,308.25 H83.1" stroke="#000" stroke-width="1.6"/>
<path d="M77.4,226.05 H83.1" stroke="#000" stroke-width="1.6"/>
<path d="M77.4,143.85 H83.1" stroke="#000" stroke-width="1.6"/>
<path d="M77.4,61.65 H83.1" stroke="#000" stroke-width="1.6"/>
<path d="M203.30,472.4 V478.2" stroke="#000" stroke-width="1.6"/>
<path d="M324.50,472.4 V478.2" stroke="#000" stroke-width="1.6"/>
<path d="M445.70,472.4 V478.2" stroke="#000" stroke-width="1.6"/>
<path d="M566.90,472.4 V478.2" stroke="#000" stroke-width="1.6"/>
<path d="M688.10,472.4 V478.2" stroke="#000" stroke-width="1.6"/>
<text x="71.40" y="478.90" text-anchor="end" font-size="18.4" textLength="24.6" lengthAdjust="spacingAndGlyphs" font-family="Liberation Serif, serif" fill="#000" stroke="#000" stroke-width="0.12" >0.0</text>
<text x="71.40" y="396.70" text-anchor="end" font-size="18.4" textLength="24.6" lengthAdjust="spacingAndGlyphs" font-family="Liberation Serif, serif" fill="#000" stroke="#000" stroke-width="0.12" >0.2</text>
<text x="71.40" y="314.50" text-anchor="end" font-size="18.4" textLength="24.6" lengthAdjust="spacingAndGlyphs" font-family="Liberation Serif, serif" fill="#000" stroke="#000" stroke-width="0.12" >0.4</text>
<text x="71.40" y="232.30" text-anchor="end" font-size="18.4" textLength="24.6" lengthAdjust="spacingAndGlyphs" font-family="Liberation Serif, serif" fill="#000" stroke="#000" stroke-width="0.12" >0.6</text>
<text x="71.40" y="150.10" text-anchor="end" font-size="18.4" textLength="24.6" lengthAdjust="spacingAndGlyphs" font-family="Liberation Serif, serif" fill="#000" stroke="#000" stroke-width="0.12" >0.8</text>
<text x="71.40" y="67.90" text-anchor="end" font-size="18.4" textLength="24.6" lengthAdjust="spacingAndGlyphs" font-family="Liberation Serif, serif" fill="#000" stroke="#000" stroke-width="0.12" >1.0</text>
<path d="M182.60,491.90 H193.40" stroke="#000" stroke-width="0.95"/>
<text x="200.60" y="497.80" text-anchor="middle" font-size="18.4" font-family="Liberation Serif, serif" fill="#000" stroke="#000" stroke-width="0.12">1</text>
<path d="M206.30,502.00 L214.70,484.20" stroke="#000" stroke-width="0.95" stroke-linecap="round"/>
<text x="220.20" y="497.80" text-anchor="middle" font-size="18.4" font-family="Liberation Serif, serif" fill="#000" stroke="#000" stroke-width="0.12">2</text>
<text x="445.70" y="499.30" text-anchor="middle" font-size="18.4" font-family="Liberation Serif, serif" fill="#000" stroke="#000" stroke-width="0.12">0</text>
<text x="677.90" y="497.80" text-anchor="middle" font-size="18.4" font-family="Liberation Serif, serif" fill="#000" stroke="#000" stroke-width="0.12">1</text>
<path d="M683.60,502.00 L692.00,484.20" stroke="#000" stroke-width="0.95" stroke-linecap="round"/>
<text x="697.50" y="497.80" text-anchor="middle" font-size="18.4" font-family="Liberation Serif, serif" fill="#000" stroke="#000" stroke-width="0.12">2</text>
<text x="215.70" y="519.30" text-anchor="middle" font-size="18.4" font-style="italic" textLength="10.0" lengthAdjust="spacingAndGlyphs" font-family="Liberation Serif, serif" fill="#000" stroke="#000" stroke-width="0.12">x</text>
<path d="M221.90,524.50 L229.60,507.30" stroke="#000" stroke-width="0.95" stroke-linecap="round"/>
<text x="236.60" y="519.30" text-anchor="middle" font-size="18.4" font-style="italic" textLength="12.0" lengthAdjust="spacingAndGlyphs" font-family="Liberation Serif, serif" fill="#000" stroke="#000" stroke-width="0.12">L</text>
<text x="252.00" y="519.60" text-anchor="start" font-size="18.4" textLength="308.0" lengthAdjust="spacingAndGlyphs" font-family="Liberation Serif, serif" fill="#000" stroke="#000" stroke-width="0.12" >(active-particle position/system size)</text>
<text transform="translate(33.3,327) rotate(-90)" font-size="18.4" textLength="113.5" lengthAdjust="spacingAndGlyphs" font-family="Liberation Serif, serif" fill="#000" stroke="#000" stroke-width="0.12"><tspan font-style="italic">t</tspan> (in sweeps)</text>
<path d="M36.60,205.20 L17.60,198.60" stroke="#000" stroke-width="0.95" stroke-linecap="round"/>
<text transform="translate(33.3,187.2) rotate(-90)" font-size="18.4" textLength="14.0" lengthAdjust="spacingAndGlyphs" font-style="italic" font-family="Liberation Serif, serif" fill="#000" stroke="#000" stroke-width="0.12">N</text>
<text x="562.00" y="404.20" text-anchor="middle" font-size="18.4" font-style="italic" font-family="Liberation Serif, serif" fill="#000" stroke="#000" stroke-width="0.12">t</text>
<path d="M567.30,408.60 L574.80,389.20" stroke="#000" stroke-width="0.95" stroke-linecap="round"/>
<text x="582.80" y="404.20" text-anchor="middle" font-size="18.4" font-style="italic" textLength="15.0" lengthAdjust="spacingAndGlyphs" font-family="Liberation Serif, serif" fill="#000" stroke="#000" stroke-width="0.12">N</text>
<text x="603.70" y="404.20" text-anchor="middle" font-size="18.4" textLength="13.9" lengthAdjust="spacingAndGlyphs" font-family="Liberation Serif, serif" fill="#000" stroke="#000" stroke-width="0.12">=</text>
<text x="620.90" y="404.20" text-anchor="middle" font-size="18.4" font-family="Liberation Serif, serif" fill="#000" stroke="#000" stroke-width="0.12">(</text>
<text x="629.40" y="404.20" text-anchor="middle" font-size="18.4" font-family="Liberation Serif, serif" fill="#000" stroke="#000" stroke-width="0.12">2</text>
<text x="639.60" y="404.20" text-anchor="middle" font-size="18.4" font-style="italic" textLength="10.4" lengthAdjust="spacingAndGlyphs" font-family="Liberation Serif, serif" fill="#000" stroke="#000" stroke-width="0.12">x</text>
<path d="M646.50,408.60 L654.10,389.20" stroke="#000" stroke-width="0.95" stroke-linecap="round"/>
<text x="661.00" y="404.20" text-anchor="middle" font-size="18.4" font-style="italic" textLength="12.4" lengthAdjust="spacingAndGlyphs" font-family="Liberation Serif, serif" fill="#000" stroke="#000" stroke-width="0.12">L</text>
<text x="671.20" y="404.20" text-anchor="middle" font-size="18.4" font-family="Liberation Serif, serif" fill="#000" stroke="#000" stroke-width="0.12">)</text>
<text x="679.20" y="396.60" text-anchor="middle" font-size="12.9" font-family="Liberation Serif, serif" fill="#000" stroke="#000" stroke-width="0.12">2</text>
<path d="M592.5,342.2 L604.8,371.5" stroke="#ffa500" stroke-opacity="0.7" stroke-width="1.25" fill="none"/>
<path d="M610.4,385.1 L597.4,368.7 L604.5,371.8 L607.8,364.7 Z" fill="#ffa500" fill-opacity="0.7" stroke="#ffa500" stroke-opacity="0.6" stroke-width="0.9" stroke-linejoin="miter"/>
<path d="M604.5,371.8 L610.4,385.1" stroke="#ffa500" stroke-opacity="0.45" stroke-width="1.1"/>
<path d="M272.3,397.9 C280,405.5 287,408.8 292.5,407 C299.5,404.8 305,398 308.9,390.6" stroke="#d62728" stroke-opacity="0.66" stroke-width="1.55" fill="none" stroke-linecap="round"/>
<path d="M317.9,374.3 L297.8,393.3 L308.9,390.3 L311.5,401.4 Z" fill="#d62728" fill-opacity="0.72" stroke="#d62728" stroke-opacity="0.6" stroke-width="1.0" stroke-linejoin="miter"/>
<path d="M308.9,390.3 L317.9,374.3" stroke="#d62728" stroke-opacity="0.45" stroke-width="1.2"/>
<g id="inset">
<clipPath id="c19"><rect x="120.0" y="275.0" width="125.0" height="90.0"/></clipPath>
<g clip-path="url(#c19)">
<polygon points="157.65,284.54 175.22,285.04 199.48,286.71 200.32,288.72 199.48,290.39 191.95,291.73 181.91,295.41 170.20,296.42 154.30,295.92 153.97,294.75 161.83,292.57 173.55,290.39 176.89,287.05 157.65,286.38" fill="#1f77b4"/>
<polygon points="154.30,294.24 183.59,295.92 212.87,297.93 213.21,299.60 193.63,300.10 181.91,300.10 154.30,295.92" fill="#1f77b4"/>
<polygon points="212.87,297.93 213.21,299.60 195.30,301.77 181.91,303.78 157.65,302.78 157.32,301.44 170.20,300.10 181.91,298.43" fill="#1f77b4"/>
<polygon points="157.65,300.94 186.93,302.61 208.69,303.78 209.02,305.62 186.93,305.12 157.65,302.78" fill="#1f77b4"/>
<polygon points="208.69,303.78 209.02,305.62 186.93,308.47 175.22,312.15 155.14,311.48 154.81,310.14 163.51,307.63 175.22,305.12" fill="#1f77b4"/>
<polygon points="155.14,309.81 183.59,312.15 212.87,313.49 213.21,315.16 183.59,314.49 155.14,311.48" fill="#1f77b4"/>
<polygon points="212.87,313.49 213.21,315.16 183.59,317.67 161.83,321.02 158.49,322.69 131.71,321.85 131.71,320.52 153.47,316.83 183.59,314.49" fill="#1f77b4"/>
<polygon points="131.71,320.18 170.20,323.03 195.30,324.36 220.40,325.20 245.00,328.88 245.00,331.56 220.40,328.55 195.30,328.21 170.20,324.70 131.71,321.85" fill="#1f77b4"/>
<polygon points="245.00,333.23 207.01,335.58 186.93,336.91 175.22,341.10 170.20,342.27 170.20,343.61 178.57,344.44 207.01,341.10 220.40,337.25 245.00,335.58" fill="#1f77b4"/>
<polygon points="170.20,341.93 200.32,343.61 230.44,346.29 230.78,348.13 200.32,346.95 170.20,343.61" fill="#1f77b4"/>
<polygon points="230.44,346.29 230.78,348.13 213.71,350.30 186.10,351.47 185.76,349.97 200.32,346.95" fill="#1f77b4"/>
<polygon points="186.10,349.80 222.91,351.31 223.25,353.15 186.10,351.47" fill="#1f77b4"/>
<polygon points="222.91,351.31 223.25,353.15 207.01,356.16 181.08,356.49 180.74,354.99 200.32,352.31" fill="#1f77b4"/>
<polygon points="181.08,354.82 207.01,356.99 245.00,361.18 245.00,364.02 207.01,361.18 181.08,356.49" fill="#1f77b4"/>
</g>
<clipPath id="c20"><rect x="245.0" y="300.0" width="60.0" height="90.0"/></clipPath>
<g clip-path="url(#c20)">
<polygon points="180.00,321.42 196.73,323.43 221.83,325.10 280.07,332.13 280.40,333.47 250.28,331.79 221.83,328.45 196.73,326.77 180.00,323.76" fill="#1f77b4"/>
<polygon points="280.07,332.13 280.40,333.80 230.20,335.98 206.77,339.32 205.10,341.00 180.84,340.16 180.50,338.49 196.73,335.98 230.20,334.30" fill="#1f77b4"/>
</g>
<clipPath id="c21"><rect x="180.0" y="328.0" width="65.0" height="62.0"/></clipPath>
<g clip-path="url(#c21)">
<polygon points="280.07,332.13 280.40,333.80 230.20,335.98 206.77,339.32 205.10,341.00 180.84,340.16 180.50,338.49 196.73,335.98 230.20,334.30" fill="#1f77b4"/>
<polygon points="180.00,342.67 205.10,343.84 230.20,346.85 230.54,348.53 205.10,346.52 180.00,344.85" fill="#1f77b4"/>
<polygon points="230.20,346.85 230.54,348.53 213.47,350.20 185.86,351.04 185.52,349.53 205.10,347.69" fill="#1f77b4"/>
<polygon points="185.86,349.36 221.83,351.87 222.17,353.55 185.86,351.04" fill="#1f77b4"/>
<polygon points="221.83,351.87 222.17,353.55 196.73,356.06 180.84,356.06 180.50,354.55 196.73,353.21" fill="#1f77b4"/>
<polygon points="180.84,354.38 193.39,356.06 206.77,359.40 235.22,360.58 235.22,362.75 205.10,362.25 190.04,357.73 180.84,356.22" fill="#1f77b4"/>
</g>
<polygon points="245.60,438.10 243.47,435.55 242.59,433.01 241.92,430.46 241.35,427.91 240.84,425.37 240.39,422.82 239.97,420.27 239.58,417.73 239.22,415.18 238.87,412.63 238.55,410.09 238.23,407.54 237.93,404.99 237.64,402.45 237.36,399.90 237.09,397.35 236.83,394.81 236.58,392.26 236.33,389.71 236.09,387.17 235.85,384.62 235.62,382.07 235.40,379.53 235.18,376.98 234.97,374.43 234.75,371.89 234.55,369.34 234.35,366.79 234.15,364.25 233.95,361.70 259.05,361.70 258.85,364.25 258.65,366.79 258.45,369.34 258.25,371.89 258.03,374.43 257.82,376.98 257.60,379.53 257.38,382.07 257.15,384.62 256.91,387.17 256.67,389.71 256.42,392.26 256.17,394.81 255.91,397.35 255.64,399.90 255.36,402.45 255.07,404.99 254.77,407.54 254.45,410.09 254.13,412.63 253.78,415.18 253.42,417.73 253.03,420.27 252.61,422.82 252.16,425.37 251.65,427.91 251.08,430.46 250.41,433.01 249.53,435.55 247.40,438.10" fill="#1f77b4" stroke="#1f77b4" stroke-width="0.8" stroke-linejoin="round"/>
<path d="M233.0,365.2 H238.5" stroke="#fff" stroke-width="0.9"/>
<path d="M234.0,370.7 H238.8" stroke="#fff" stroke-width="0.9"/>
<path d="M235.2,383.3 H240.5" stroke="#fff" stroke-width="0.9"/>
<path d="M236.5,377.0 H239.5" stroke="#fff" stroke-width="0.9"/>
<path d="M257.5,368.5 H259.5" stroke="#fff" stroke-width="0.9"/>
<path d="M256.0,379.5 H258.3" stroke="#fff" stroke-width="0.9"/>
<rect x="224.8" y="358.2" width="40.2" height="83.2" fill="none" stroke="#ff0000" stroke-width="1.3" stroke-dasharray="1.3 1.3"/>
<path d="M125.5,277.0 V446.0 H287" stroke="#000" stroke-width="1.6" fill="none" stroke-linecap="square"/>
<path d="M120,438.10 H125.5" stroke="#000" stroke-width="1.6"/>
<text x="115.30" y="444.60" text-anchor="end" font-size="18.4" textLength="24.6" lengthAdjust="spacingAndGlyphs" font-family="Liberation Serif, serif" fill="#000" stroke="#000" stroke-width="0.12" >0.0</text>
<path d="M120,399.90 H125.5" stroke="#000" stroke-width="1.6"/>
<text x="115.30" y="406.40" text-anchor="end" font-size="18.4" textLength="24.6" lengthAdjust="spacingAndGlyphs" font-family="Liberation Serif, serif" fill="#000" stroke="#000" stroke-width="0.12" >0.5</text>
<path d="M120,361.70 H125.5" stroke="#000" stroke-width="1.6"/>
<text x="115.30" y="368.20" text-anchor="end" font-size="18.4" textLength="24.6" lengthAdjust="spacingAndGlyphs" font-family="Liberation Serif, serif" fill="#000" stroke="#000" stroke-width="0.12" >1.0</text>
<path d="M120,323.50 H125.5" stroke="#000" stroke-width="1.6"/>
<text x="115.30" y="330.00" text-anchor="end" font-size="18.4" textLength="24.6" lengthAdjust="spacingAndGlyphs" font-family="Liberation Serif, serif" fill="#000" stroke="#000" stroke-width="0.12" >1.5</text>
<path d="M120,285.30 H125.5" stroke="#000" stroke-width="1.6"/>
<text x="115.30" y="291.80" text-anchor="end" font-size="18.4" textLength="24.6" lengthAdjust="spacingAndGlyphs" font-family="Liberation Serif, serif" fill="#000" stroke="#000" stroke-width="0.12" >2.0</text>
<path d="M176.60,446.0 V451.5" stroke="#000" stroke-width="1.6"/>
<path d="M166.00,461.60 H176.40" stroke="#000" stroke-width="0.95"/>
<text x="183.10" y="467.30" text-anchor="middle" font-size="18.4" font-family="Liberation Serif, serif" fill="#000" stroke="#000" stroke-width="0.12">3</text>
<path d="M246.50,446.0 V451.5" stroke="#000" stroke-width="1.6"/>
<text x="246.50" y="467.30" text-anchor="middle" font-size="18.4" font-family="Liberation Serif, serif" fill="#000" stroke="#000" stroke-width="0.12">0</text>
</g>
</svg>
</body></html>
